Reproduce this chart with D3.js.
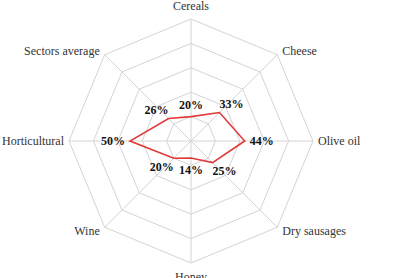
<!DOCTYPE html>
<html>
<head>
<meta charset="utf-8">
<script src="https://cdn.jsdelivr.net/npm/d3@7"></script>
<style>
  html, body { margin: 0; padding: 0; background: #fff; }
  svg { display: block; }
</style>
</head>
<body>
<svg id="chart" width="410" height="278"></svg>
<script>
// Sectores y porcentajes
const categories = ['Cereals', 'Cheese', 'Olive oil', 'Dry sausages', 'Honey', 'Wine', 'Horticultural', 'Sectors average'];
const values = [20, 33, 44, 25, 14, 20, 50, 26];
const levels = [20, 40, 60, 80, 100];

const width = 410, height = 278;
const cx = 191, cy = 141, radius = 122;

const svg = d3.select('#chart');
const g = svg.append('g').attr('transform', `translate(${cx},${cy})`);

const rScale = d3.scaleLinear().domain([0, 100]).range([0, radius]);
const angle = d3.scalePoint().domain(categories).range([0, 2 * Math.PI * (categories.length - 1) / categories.length]);

// punto en coordenadas cartesianas
const pt = (cat, v) => {
  const a = angle(cat) - Math.PI / 2;
  return [Math.cos(a) * rScale(v), Math.sin(a) * rScale(v)];
};

const line = d3.line().curve(d3.curveLinearClosed);

// rejilla octogonal
g.selectAll('.ring')
  .data(levels)
  .join('path')
  .attr('class', 'ring')
  .attr('d', lv => line(categories.map(c => pt(c, lv))))
  .attr('fill', 'none')
  .attr('stroke', '#d4d4d4')
  .attr('stroke-width', 1);

// ejes radiales
g.selectAll('.spoke')
  .data(categories)
  .join('line')
  .attr('class', 'spoke')
  .attr('x1', 0).attr('y1', 0)
  .attr('x2', c => pt(c, 100)[0])
  .attr('y2', c => pt(c, 100)[1])
  .attr('stroke', '#d4d4d4')
  .attr('stroke-width', 1);

// etiquetas de categoria
g.selectAll('.cat-label')
  .data(categories)
  .join('text')
  .attr('class', 'cat-label')
  .each(function (c) {
    const a = angle(c) - Math.PI / 2;
    const [x, y] = pt(c, 100);
    const cos = Math.cos(a), sin = Math.sin(a);
    let anchor = 'middle', dx = 0, dy = 0;
    if (cos > 0.1) { anchor = 'start'; dx = 5; }
    else if (cos < -0.1) { anchor = 'end'; dx = -5; }
    if (Math.abs(cos) < 0.1) dy = sin < 0 ? -13 : 14;
    else if (sin < -0.1) dy = -4;
    else if (sin > 0.1) dy = 4;
    d3.select(this)
      .attr('x', x + dx)
      .attr('y', y + dy)
      .attr('text-anchor', anchor);
  })
  .attr('dominant-baseline', 'central')
  .attr('font-family', '"Liberation Serif", "Times New Roman", serif')
  .attr('font-size', '12px')
  .attr('fill', '#333')
  .text(c => c);

// serie de datos
const dataPts = categories.map((c, i) => pt(c, values[i]));
g.append('path')
  .attr('d', line(dataPts))
  .attr('fill', 'none')
  .attr('stroke', '#e03a3a')
  .attr('stroke-width', 1.6)
  .attr('stroke-linejoin', 'miter');

// etiquetas de valores
g.selectAll('.val-label')
  .data(categories)
  .join('text')
  .attr('class', 'val-label')
  .attr('x', (c, i) => pt(c, values[i])[0] + Math.cos(angle(c) - Math.PI / 2) * 17)
  .attr('y', (c, i) => pt(c, values[i])[1] + Math.sin(angle(c) - Math.PI / 2) * 12)
  .attr('text-anchor', 'middle')
  .attr('dominant-baseline', 'central')
  .attr('font-family', '"Liberation Serif", "Times New Roman", serif')
  .attr('font-weight', 'bold')
  .attr('font-size', '12px')
  .attr('fill', '#111')
  .text((c, i) => values[i] + '%');
</script>
</body>
</html>
